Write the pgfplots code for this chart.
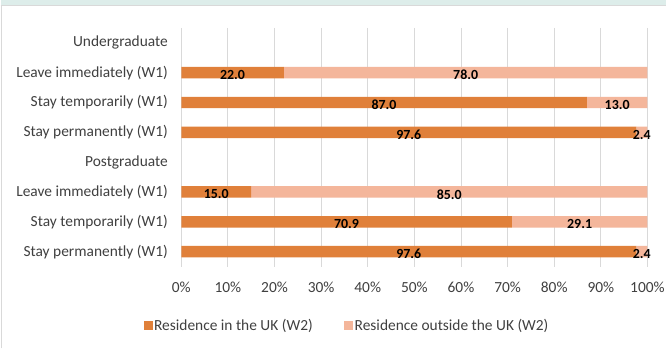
\documentclass[border=0pt]{standalone}
\usepackage{pgfplots}
\pgfplotsset{compat=1.18}
\usepackage{pgfplotstable}
\usepackage{fontspec}
\setmainfont{Carlito}

\definecolor{ukres}{HTML}{E0803A}
\definecolor{abroad}{HTML}{F4B69B}
\definecolor{gridgrey}{HTML}{D9D9D9}
\definecolor{labelgrey}{HTML}{404040}
\definecolor{bandteal}{HTML}{DDEDEA}

% row: position from the top (0 and 4 are the group headings)
\pgfplotstableread{
row uk abroad
1 22.0 78.0
2 87.0 13.0
3 97.6 2.4
5 15.0 85.0
6 70.9 29.1
7 97.6 2.4
}\residence

\pgfplotsset{
  panel/.style={
    scale only axis, width=467bp, height=239bp,
    at={(181bp,82bp)}, anchor=south west,
    xmin=0, xmax=100, ymin=-0.5, ymax=7.5, y dir=reverse,
  },
}

\begin{document}
\begin{tikzpicture}
\fill[white] (0,0) rectangle (667bp,349bp);
\fill[bandteal] (0,344bp) rectangle (667bp,349bp);
\draw[gridgrey, line width=1.2bp] (0,343.6bp) -- (667bp,343.6bp);
\draw[gridgrey, line width=0.8bp] (0.4bp,0) -- (0.4bp,343bp);
\useasboundingbox (0,0) rectangle (667bp,349bp);

\begin{axis}[panel,
  xbar stacked, bar width=11.5bp,
  axis line style={draw=none},
  tick style={draw=none},
  xmajorgrids, grid style={gridgrey, line width=0.8bp},
  xtick={0,10,...,100},
  xticklabel={\pgfmathprintnumber{\tick}\%},
  /pgf/number format/assume math mode=true,
  xticklabel style={yshift=-12bp},
  ytick={0,...,7},
  yticklabels={Undergraduate, Leave immediately (W1), Stay temporarily (W1), Stay permanently (W1),
               Postgraduate, Leave immediately (W1), Stay temporarily (W1), Stay permanently (W1)},
  yticklabel style={xshift=-10bp},
  tick label style={font=\fontsize{15.5}{18}\selectfont, text=labelgrey},
  legend style={at={(0.355,-0.247)}, anchor=center, draw=none, fill=none,
    legend columns=2, font=\fontsize{15.5}{18}\selectfont, text=labelgrey,
    nodes={inner sep=1.5bp},
    /tikz/every even column/.append style={column sep=30bp}},
  legend image code/.code={\fill[#1] (0bp,-4.5bp) rectangle (9bp,4.5bp);},
]
\addplot[fill=ukres, draw=none] table[x=uk, y=row] {\residence};
\addlegendentry{Residence in the UK (W2)}
\addplot[fill=abroad, draw=none] table[x=abroad, y=row] {\residence};
\addlegendentry{Residence outside the UK (W2)}
\end{axis}

% value labels, centred on each segment
\begin{axis}[panel, hide axis, clip=false,
  /pgf/number format/assume math mode=true,
  nodes near coords={\pgfmathprintnumber[fixed, fixed zerofill, precision=1, assume math mode=true]{\pgfplotspointmeta}},
  nodes near coords style={anchor=center, yshift=-2.5bp,
    font=\fontsize{14}{16}\selectfont\bfseries, text=black},
]
\addplot[only marks, mark=none, point meta=explicit]
  table[x expr=\thisrow{uk}/2, y=row, meta=uk] {\residence};
\addplot[only marks, mark=none, point meta=explicit]
  table[x expr=\thisrow{uk}+\thisrow{abroad}/2, y=row, meta=abroad] {\residence};
\end{axis}
\end{tikzpicture}
\end{document}
